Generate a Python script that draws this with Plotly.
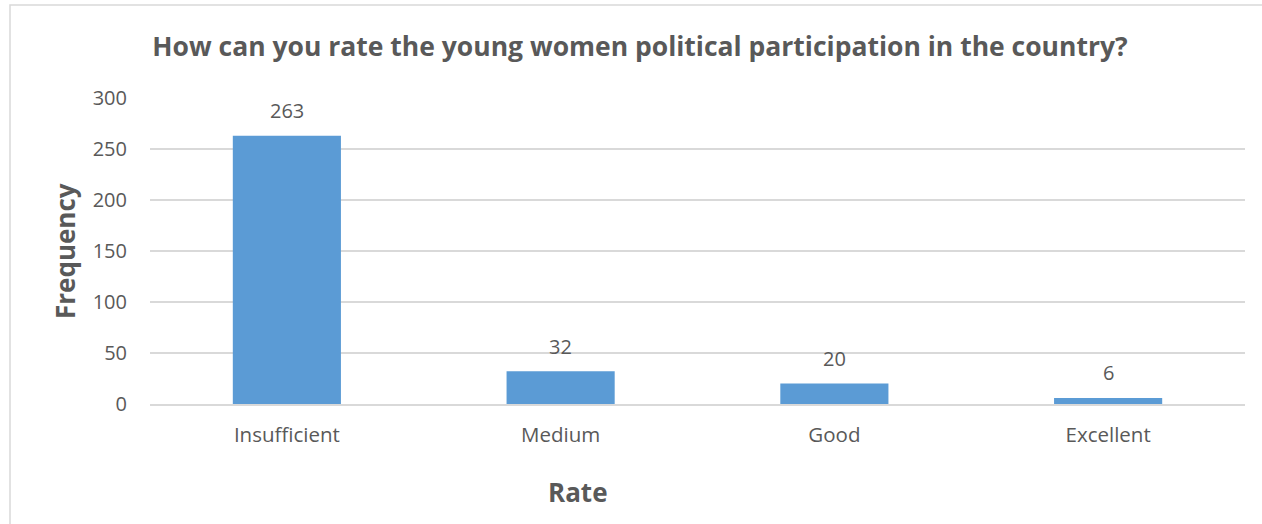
import plotly.graph_objects as go

categories = ["Insufficient", "Medium", "Good", "Excellent"]
values = [263, 32, 20, 6]
y_ticks = [0, 50, 100, 150, 200, 250, 300]

title_text = "How can you rate the young women political participation in the country?"
x_title = "Rate"
y_title = "Frequency"

bar_color = "#5B9BD5"
text_color = "#595959"
grid_color = "#D9D9D9"
font_family = "Open Sans, Liberation Sans, sans-serif"

W, H = 1262, 524
L, R, T, B = 150, 17, 98, 120
pw, ph = W - L - R, H - T - B

fig = go.Figure()
fig.add_trace(go.Bar(
    x=categories, y=values, marker=dict(color=bar_color, line=dict(width=0)),
    showlegend=False, hoverinfo="x+y",
))

for c, v in zip(categories, values):
    fig.add_annotation(x=c, y=v, text=str(v), showarrow=False, xref="x", yref="y",
                       yanchor="middle", yshift=25,
                       font=dict(family=font_family, size=20, color=text_color))

def px_x(p):
    return (p - L) / pw

def px_y(p):
    return (H - B - p) / ph

fig.add_annotation(x=px_x(65), y=px_y(251), xref="paper", yref="paper", text=f"<b>{y_title}</b>",
                   textangle=-90, showarrow=False, xanchor="center", yanchor="middle",
                   font=dict(family=font_family, size=26, color=text_color))
fig.add_annotation(x=px_x(578), y=px_y(492), xref="paper", yref="paper", text=f"<b>{x_title}</b>",
                   showarrow=False, xanchor="center", yanchor="middle",
                   font=dict(family=font_family, size=26, color=text_color))

fig.add_shape(type="rect", xref="paper", yref="paper",
              x0=px_x(10), x1=px_x(1275), y0=px_y(540), y1=px_y(5),
              line=dict(color=grid_color, width=1.5), fillcolor="rgba(0,0,0,0)", layer="below")

fig.update_layout(
    width=W, height=H,
    margin=dict(l=L, r=R, t=T, b=B, autoexpand=False),
    paper_bgcolor="white", plot_bgcolor="white",
    bargap=0.605,
    title=dict(text=f"<b>{title_text}</b>", x=640 / W, xanchor="center",
               y=1 - 47 / H, yanchor="middle",
               font=dict(family=font_family, size=26.5, color=text_color)),
    font=dict(family=font_family, color=text_color),
    xaxis=dict(showgrid=False, showline=True, linecolor=grid_color, linewidth=1.5,
               ticks="", tickfont=dict(size=20.5, color=text_color), ticklabelstandoff=12),
    yaxis=dict(range=[0, 300], tickvals=y_ticks, showgrid=True, gridcolor=grid_color, gridwidth=1.5,
               zeroline=False, showline=False, ticks="",
               tickfont=dict(size=20, color=text_color), ticklabelstandoff=22),
)

fig.write_html("out.html")
